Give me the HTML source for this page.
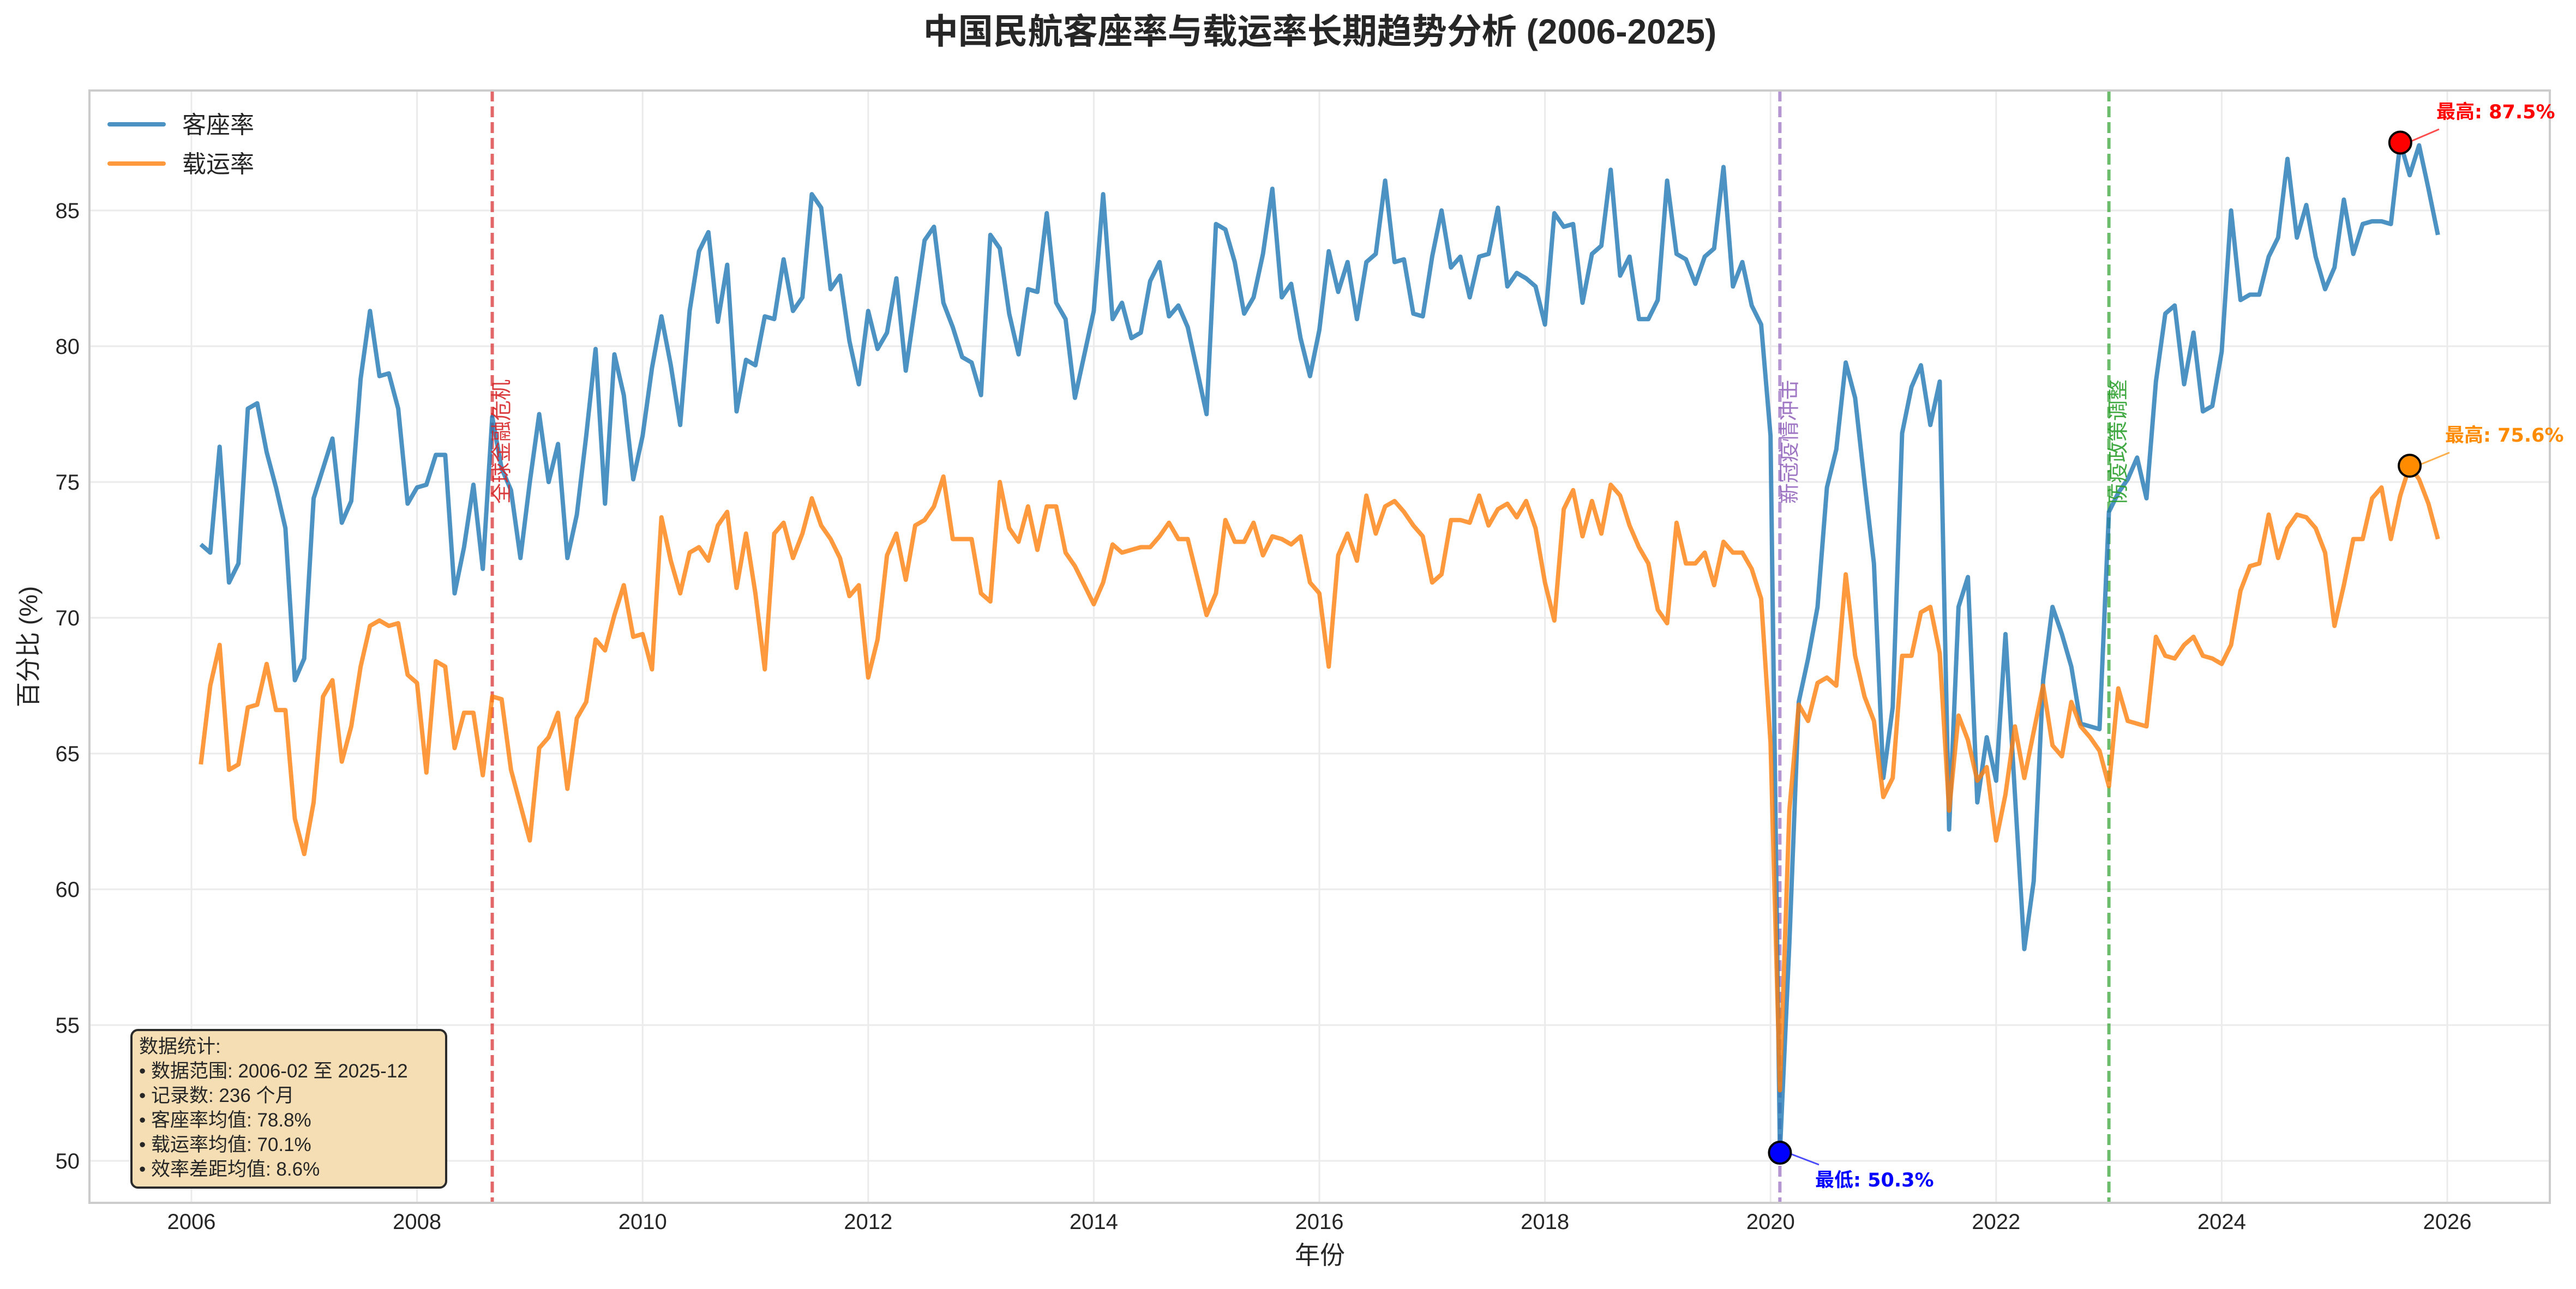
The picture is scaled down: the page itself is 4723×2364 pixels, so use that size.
<!DOCTYPE html>
<html><head><meta charset="utf-8"><style>
html,body{margin:0;padding:0;background:#fff;}
svg{display:block;}
text{font-family:"Liberation Sans","Noto Sans CJK SC",sans-serif;}
</style></head><body>
<svg id="s" width="4723" height="2364" viewBox="0 0 4723 2364" xmlns="http://www.w3.org/2000/svg">
<rect x="0" y="0" width="4723" height="2364" fill="#fff"/>
<g id="grid"></g>
<g id="vl"></g>
<g id="series"></g>
<rect x="164" y="166" width="4511" height="2040" fill="none" stroke="#cccccc" stroke-width="4"/>
<g id="ticks" fill="#262626" font-size="40"></g>
<text x="2420" y="80" text-anchor="middle" font-size="64" font-weight="bold" fill="#262626">中国民航客座率与载运率长期趋势分析 (2006-2025)</text>
<text x="2420" y="2318" text-anchor="middle" font-size="46" fill="#262626">年份</text>
<text transform="translate(68,1186) rotate(-90)" text-anchor="middle" font-size="46" fill="#262626">百分比 (%)</text>
<line x1="201" y1="228" x2="300" y2="228" stroke="#1f77b4" stroke-opacity="0.8" stroke-width="8" stroke-linecap="round"/>
<line x1="201" y1="300" x2="300" y2="300" stroke="#ff7f0e" stroke-opacity="0.8" stroke-width="8" stroke-linecap="round"/>
<text x="334" y="244" font-size="44" fill="#262626">客座率</text>
<text x="334" y="316" font-size="44" fill="#262626">载运率</text>
<rect x="241" y="1889" width="577" height="289" rx="12" fill="#f5deb3" stroke="#2b2b2b" stroke-width="4"/>
<g font-size="35" fill="#262626">
<text x="255" y="1931">数据统计:</text>
<text x="255" y="1976">• 数据范围: 2006-02 至 2025-12</text>
<text x="255" y="2021">• 记录数: 236 个月</text>
<text x="255" y="2066">• 客座率均值: 78.8%</text>
<text x="255" y="2111">• 载运率均值: 70.1%</text>
<text x="255" y="2156">• 效率差距均值: 8.6%</text>
</g>
<g id="ann"></g>
</svg>
<script>
var L=164,R=4675,T=166,B=2206;
function X(t){return 351+(t-2006)*206.8;}
function Y(v){return 2129-(v-50)*49.8;}
var ns="http://www.w3.org/2000/svg";
function el(p,tag,a,txt){var e=document.createElementNS(ns,tag);for(var k in a)e.setAttribute(k,a[k]);if(txt!==undefined)e.textContent=txt;document.getElementById(p).appendChild(e);return e;}
for(var y=2006;y<=2026;y+=2){el("grid","line",{x1:X(y),x2:X(y),y1:T,y2:B,stroke:"#ebebeb","stroke-width":3});
 el("ticks","text",{x:X(y),y:2254,"text-anchor":"middle"},""+y);}
for(var v=50;v<=85;v+=5){el("grid","line",{x1:L,x2:R,y1:Y(v),y2:Y(v),stroke:"#ebebeb","stroke-width":3});
 el("ticks","text",{x:146,y:Y(v)+14,"text-anchor":"end"},""+v);}
var blue=[72.7,72.4,76.3,71.3,72.0,77.7,77.9,76.1,74.8,73.3,67.7,
68.5,74.4,75.5,76.6,73.5,74.3,78.8,81.3,78.9,79.0,77.7,74.2,
74.8,74.9,76.0,76.0,70.9,72.6,74.9,71.8,77.4,75.5,74.7,72.2,
75.0,77.5,75.0,76.4,72.2,73.8,76.7,79.9,74.2,79.7,78.2,75.1,
76.7,79.2,81.1,79.3,77.1,81.3,83.5,84.2,80.9,83.0,77.6,79.5,
79.3,81.1,81.0,83.2,81.3,81.8,85.6,85.1,82.1,82.6,80.2,78.6,
81.3,79.9,80.5,82.5,79.1,81.5,83.9,84.4,81.6,80.7,79.6,79.4,
78.2,84.1,83.6,81.2,79.7,82.1,82.0,84.9,81.6,81.0,78.1,79.7,
81.3,85.6,81.0,81.6,80.3,80.5,82.4,83.1,81.1,81.5,80.7,79.1,
77.5,84.5,84.3,83.1,81.2,81.8,83.4,85.8,81.8,82.3,80.3,78.9,
80.6,83.5,82.0,83.1,81.0,83.1,83.4,86.1,83.1,83.2,81.2,81.1,
83.3,85.0,82.9,83.3,81.8,83.3,83.4,85.1,82.2,82.7,82.5,82.2,
80.8,84.9,84.4,84.5,81.6,83.4,83.7,86.5,82.6,83.3,81.0,81.0,
81.7,86.1,83.4,83.2,82.3,83.3,83.6,86.6,82.2,83.1,81.5,80.8,
76.7];
blue=blue.concat([50.3,58,66.9,68.5,70.4,74.8,76.2,79.4,78.1,75.0,72.0,64.1,66.7,76.8,78.5,79.3,77.1,78.7,62.2,70.4,71.5,63.2,65.6,64.0,69.4,63.5,57.8,60.3,67.7,70.4,69.4,68.2,66.1,66.0,65.9,73.9,74.6,75.1,75.9,74.4,78.7,81.2,81.5,78.6,80.5,77.6,77.8,79.8,85.0,81.7,81.9,81.9,83.3,84.0,86.9,84.0,85.2,83.3,82.1,82.9,85.4,83.4,84.5,84.6,84.6,84.5,87.5,86.3,87.4,85.8,84.1]);
var orange=[64.6,67.5,69.0,64.4,64.6,66.7,66.8,68.3,66.6,66.6,62.6,
61.3,63.2,67.1,67.7,64.7,66.0,68.2,69.7,69.9,69.7,69.8,67.9,
67.6,64.3,68.4,68.2,65.2,66.5,66.5,64.2,67.1,67.0,64.4,63.1,
61.8,65.2,65.6,66.5,63.7,66.3,66.9,69.2,68.8,70.1,71.2,69.3,
69.4,68.1,73.7,72.1,70.9,72.4,72.6,72.1,73.4,73.9,71.1,73.1,
70.9,68.1,73.1,73.5,72.2,73.1,74.4,73.4,72.9,72.2,70.8,71.2,
67.8,69.2,72.3,73.1,71.4,73.4,73.6,74.1,75.2,72.9,72.9,72.9,
70.9,70.6,75.0,73.3,72.8,74.1,72.5,74.1,74.1,72.4,71.9,71.2,
70.5,71.3,72.7,72.4,72.5,72.6,72.6,73.0,73.5,72.9,72.9,71.5,
70.1,70.9,73.6,72.8,72.8,73.5,72.3,73.0,72.9,72.7,73.0,71.3,
70.9,68.2,72.3,73.1,72.1,74.5,73.1,74.1,74.3,73.9,73.4,73.0,
71.3,71.6,73.6,73.6,73.5,74.5,73.4,74.0,74.2,73.7,74.3,73.3,
71.3,69.9,74.0,74.7,73.0,74.3,73.1,74.9,74.5,73.4,72.6,72.0,
70.3,69.8,73.5,72.0,72.0,72.4,71.2,72.8,72.4,72.4,71.8,70.7,
65.4];
orange=orange.concat([52.6,62.9,66.8,66.2,67.6,67.8,67.5,71.6,68.6,67.1,66.2,63.4,64.1,68.6,68.6,70.2,70.4,68.7,62.9,66.4,65.5,64.0,64.5,61.8,63.5,66.0,64.1,65.8,67.5,65.3,64.9,66.9,66.0,65.6,65.1,63.8,67.4,66.2,66.1,66.0,69.3,68.6,68.5,69.0,69.3,68.6,68.5,68.3,69.0,71.0,71.9,72.0,73.8,72.2,73.3,73.8,73.7,73.3,72.4,69.7,71.2,72.9,72.9,74.4,74.8,72.9,74.5,75.6,75.1,74.2,72.9]);
function pts(a){var s=[];for(var i=0;i<a.length;i++){var t=2006+(i+1)/12;s.push(X(t).toFixed(1)+","+Y(a[i]).toFixed(1));}return s.join(" ");}
var VL=[[2008.667,"#d62728","全球金融危机"],[2020.083,"#9467bd","新冠疫情冲击"],[2023.0,"#2ca02c","防疫政策调整"]];
VL.forEach(function(d){
 var x=X(d[0]);
 el("vl","line",{x1:x,x2:x,y1:T,y2:B,stroke:d[1],"stroke-opacity":0.7,"stroke-width":6,"stroke-dasharray":"20,9"});
});
el("series","polyline",{points:pts(blue),fill:"none",stroke:"#1f77b4","stroke-opacity":0.8,"stroke-width":8,"stroke-linejoin":"round"});
el("series","polyline",{points:pts(orange),fill:"none",stroke:"#ff7f0e","stroke-opacity":0.8,"stroke-width":8,"stroke-linejoin":"round"});
VL.forEach(function(d){
 var x=X(d[0])+18;
 el("ann","text",{transform:"translate("+x+",810) rotate(-90)","text-anchor":"middle","dominant-baseline":"central","font-size":38,fill:d[1],"fill-opacity":0.9},d[2]);
});
function ann(t,v,fc,col,tx,ty,ex,ey,txt){
 var cx=X(t),cy=Y(v);
 el("ann","line",{x1:cx+14,y1:cy,x2:ex,y2:ey,stroke:col,"stroke-opacity":0.7,"stroke-width":3});
 el("ann","circle",{cx:cx,cy:cy,r:20,fill:fc,stroke:"#000","stroke-width":4});
 var e=el("ann","text",{x:tx,y:ty,"font-size":35,"font-weight":"bold",fill:col},txt);
 e.setAttribute("style","font-family:'DejaVu Sans','Noto Sans CJK SC',sans-serif");
}
ann(2025+7/12,87.5,"#ff0000","#ff0000",4467,217,4472,237,"最高: 87.5%");
ann(2025+8/12,75.6,"#ff8c00","#ff8c00",4483,810,4491,830,"最高: 75.6%");
ann(2020+1/12,50.3,"#0000ff","#0000ff",3328,2176,3335,2136,"最低: 50.3%");
</script>
</body></html>
